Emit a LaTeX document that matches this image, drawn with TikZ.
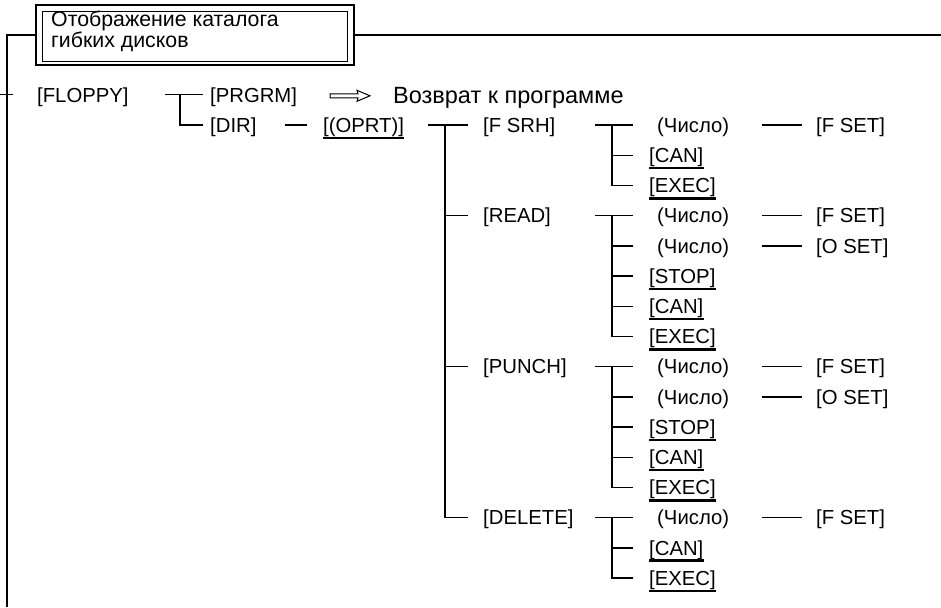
\documentclass[tikz,border=0pt]{standalone}
\usepackage{fontspec}
\setmainfont{Liberation Sans}
\begin{document}
\begin{tikzpicture}[x=1pt,y=-1pt,
  lbl/.style={anchor=west, inner sep=0pt, font=\fontsize{20.3}{23}\selectfont, text height=14.5pt, text depth=0pt},
  bigtxt/.style={lbl, font=\fontsize{23.5}{27}\selectfont, text height=16.8pt},
  conn/.style={line width=1.4pt},
  ulline/.style={line width=2.6pt},
  frameline/.style={line width=1.8pt}]
\useasboundingbox (0,0) rectangle (941,607);

% title box with a double border
\node[draw, line width=2pt, minimum width=318pt, minimum height=60pt, inner sep=0pt] (box) at (195,35) {};
\draw[line width=1pt] ([shift={(7,8)}]box.north west) rectangle ([shift={(-8,-4)}]box.south east);
\node[anchor=north west, inner sep=0pt, align=left, font=\fontsize{21.3}{20.5}\selectfont] (title)
  at ([shift={(16,7)}]box.north west) {Отображение каталога\\гибких дисков};

% outer frame
\coordinate (corner) at (7,35);
\coordinate (bottomend) at (7,607);
\coordinate (rightend) at (941,35);
\draw[frameline] (box.west) -- (corner) -- (bottomend);
\draw[frameline] (box.east) -- (rightend);

% first level
\node[lbl] (floppy) at (37,94.8) {[FLOPPY]};
\node[lbl] (prgrm) at (210,94.8) {[PRGRM]};
\node[bigtxt] (ret) at (393,94.8) {Возврат к программе};
\node[lbl] (dir) at (210,125) {[DIR]};
\node[lbl] (oprt) at (323,125) {[(OPRT)]};

% operations
\node[lbl] (fsrh) at (483,125) {[F SRH]};
\node[lbl] (read) at (483,215.6) {[READ]};
\node[lbl] (punch) at (483,366.6) {[PUNCH]};
\node[lbl] (del) at (483,517.6) {[DELETE]};

% F SRH
\node[lbl] (fsrh-n) at (657,125) {(Число)};
\node[lbl] (fsrh-f) at (816,125) {[F SET]};
\node[lbl] (fsrh-c) at (649,155.2) {[CAN]};
\node[lbl] (fsrh-e) at (649,185.4) {[EXEC]};

% READ
\node[lbl] (read-n1) at (657,215.6) {(Число)};
\node[lbl] (read-f) at (816,215.6) {[F SET]};
\node[lbl] (read-n2) at (657,245.8) {(Число)};
\node[lbl] (read-o) at (816,245.8) {[O SET]};
\node[lbl] (read-s) at (649,276) {[STOP]};
\node[lbl] (read-c) at (649,306.2) {[CAN]};
\node[lbl] (read-e) at (649,336.4) {[EXEC]};

% PUNCH
\node[lbl] (punch-n1) at (657,366.6) {(Число)};
\node[lbl] (punch-f) at (816,366.6) {[F SET]};
\node[lbl] (punch-n2) at (657,396.8) {(Число)};
\node[lbl] (punch-o) at (816,396.8) {[O SET]};
\node[lbl] (punch-s) at (649,427) {[STOP]};
\node[lbl] (punch-c) at (649,457.2) {[CAN]};
\node[lbl] (punch-e) at (649,487.4) {[EXEC]};

% DELETE
\node[lbl] (del-n) at (657,517.6) {(Число)};
\node[lbl] (del-f) at (816,517.6) {[F SET]};
\node[lbl] (del-c) at (649,547.8) {[CAN]};
\node[lbl] (del-e) at (649,578) {[EXEC]};

% soft keys
\foreach \n in {oprt,fsrh-c,fsrh-e,read-s,read-c,read-e,punch-s,punch-c,punch-e,del-c,del-e}
  \draw[ulline] ([yshift=-5.5pt]\n.south west) -- ([yshift=-5.5pt]\n.south east);

% tick on the frame
\draw[conn] ([xshift=-37pt]floppy.west) -- ([xshift=-24pt]floppy.west);

% FLOPPY branches
\draw[conn] ([xshift=-45pt]prgrm.west) -- ([xshift=-7pt]prgrm.west);
\draw[conn] ([xshift=-30pt]prgrm.west) |- ([xshift=-7pt]dir.west);

% hollow arrow
\draw[line width=1pt] ([shift={(-63,-1)}]ret.west) -- ++(28,0) -- ++(-1,-3.5) -- ++(13,5.5)
  -- ++(-13,5.5) -- ++(1,-3.5) -- ++(-28,0) -- cycle;

% DIR -> (OPRT)
\draw[conn] ([xshift=-38pt]oprt.west) -- ([xshift=-16pt]oprt.west);

% (OPRT) -> operations
\draw[conn] ([xshift=-55pt]fsrh.west) -- ([xshift=-15pt]fsrh.west);
\draw[conn] ([xshift=-38pt]fsrh.west) |- ([xshift=-15pt]del.west);
\foreach \n in {read,punch}
  \draw[conn] ([xshift=-38pt]\n.west) -- ([xshift=-15pt]\n.west);

% sub-branches: first child (Число), last child underlined
\foreach \a/\z in {fsrh-n/fsrh-e, read-n1/read-e, punch-n1/punch-e, del-n/del-e} {
  \draw[conn] ([xshift=-62pt]\a.west) -- ([xshift=-24pt]\a.west);
  \draw[conn] ([xshift=-45pt]\a.west) |- ([xshift=-16pt]\z.west);
}
\foreach \n in {read-n2, punch-n2}
  \draw[conn] ([xshift=-45pt]\n.west) -- ([xshift=-24pt]\n.west);
\foreach \n in {fsrh-c, read-s, read-c, punch-s, punch-c, del-c}
  \draw[conn] ([xshift=-37pt]\n.west) -- ([xshift=-16pt]\n.west);

% (Число) -> SET keys
\foreach \n in {fsrh-f, read-f, read-o, punch-f, punch-o, del-f}
  \draw[conn] ([xshift=-54pt]\n.west) -- ([xshift=-14pt]\n.west);
\end{tikzpicture}
\end{document}
